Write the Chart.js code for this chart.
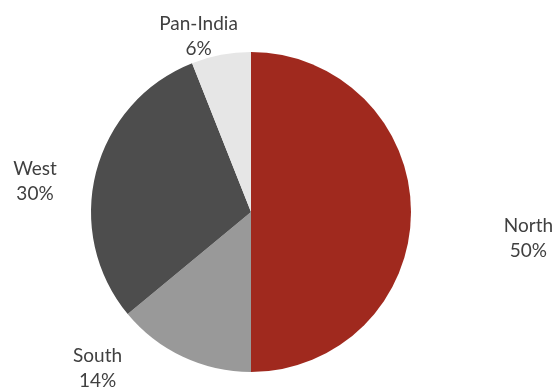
<!DOCTYPE html>
<html>
<head>
<meta charset="utf-8">
<script src="https://cdn.jsdelivr.net/npm/chart.js@4/dist/chart.umd.min.js"></script>
<style>
  html, body { margin: 0; padding: 0; background: #fff; }
  #wrap { width: 557px; height: 388px; position: relative; }
</style>
</head>
<body>
<div id="wrap"><canvas id="regionChart"></canvas></div>
<script>
"use strict";

// Share by region (%)
const regions = ['North', 'South', 'West', 'Pan-India'];
const shares = [50, 14, 30, 6];
const sliceColors = ['#A0291E', '#999999', '#4D4D4D', '#E6E6E6'];

// Label anchors, in pie radii from the centre: [dx, baseline dy of first line]
const labelAnchors = {
    'North': [1.734, 0.125],
    'South': [-0.959, 0.9375],
    'West': [-1.35, -0.231],
    'Pan-India': [-0.328, -1.1375]
};

const outsideLabels = {
    id: 'outsideLabels',
    afterDatasetsDraw(chart) {
        const ctx = chart.ctx;
        const meta = chart.getDatasetMeta(0);
        const arc = meta.data[0];
        const cx = arc.x, cy = arc.y, r = arc.outerRadius;
        ctx.save();
        ctx.font = '19px Lato';
        ctx.fillStyle = '#404040';
        ctx.textAlign = 'center';
        ctx.textBaseline = 'alphabetic';
        regions.forEach((name, i) => {
            const a = labelAnchors[name];
            const x = cx + a[0] * r;
            const y = cy + a[1] * r;
            ctx.fillText(name, x, y);
            ctx.fillText(shares[i] + '%', x, y + 25);
        });
        ctx.restore();
    }
};

new Chart(document.getElementById('regionChart'), {
    type: 'pie',
    data: {
        labels: regions,
        datasets: [{
            data: shares,
            backgroundColor: sliceColors,
            borderWidth: 0
        }]
    },
    options: {
        responsive: true,
        maintainAspectRatio: false,
        animation: false,
        layout: { padding: { left: 91, right: 146, top: 52, bottom: 16 } },
        plugins: {
            legend: { display: false },
            tooltip: { enabled: false }
        }
    },
    plugins: [outsideLabels]
});
</script>
</body>
</html>
